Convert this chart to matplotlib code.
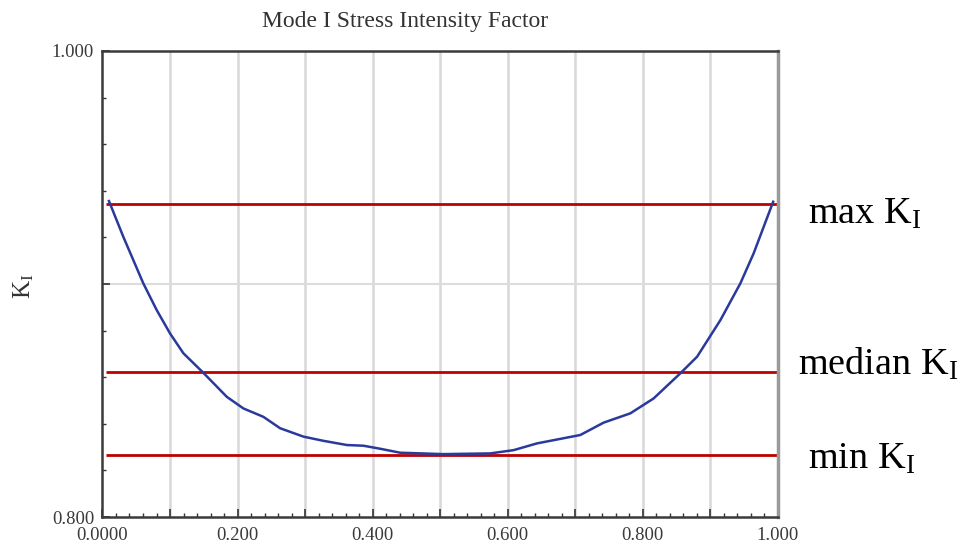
import matplotlib
matplotlib.use("Agg")
import matplotlib.pyplot as plt
from matplotlib.ticker import MultipleLocator, FixedLocator, FixedFormatter

plt.rcParams['mathtext.fontset'] = 'custom'
plt.rcParams['mathtext.rm'] = 'Liberation Serif'
plt.rcParams['mathtext.it'] = 'Liberation Serif:italic'

# ---- data ----
position = [0.0096, 0.0308, 0.0456, 0.0604, 0.0803, 0.1000, 0.1197, 0.1493,
            0.1840, 0.2086, 0.2382, 0.2630, 0.2975, 0.3271, 0.3618, 0.3864,
            0.4111, 0.4407, 0.5044, 0.5741, 0.6086, 0.6433, 0.7074, 0.7419,
            0.7815, 0.8160, 0.8556, 0.8803, 0.9148, 0.9444, 0.9641, 0.9929]
k_values = [0.9356, 0.9203, 0.9103, 0.9003, 0.8888, 0.8788, 0.8703, 0.8619,
            0.8516, 0.8466, 0.8430, 0.8381, 0.8345, 0.8327, 0.8309, 0.8306,
            0.8293, 0.8276, 0.8270, 0.8273, 0.8287, 0.8316, 0.8352, 0.8405,
            0.8445, 0.8509, 0.8617, 0.8688, 0.8845, 0.9003, 0.9132, 0.9353]
ref_names = ["max", "median", "min"]
ref_values = [0.9343, 0.8622, 0.8266]
ref_x_range = [0.005, 0.999]

x_tick_values = [0.0, 0.1, 0.2, 0.3, 0.4, 0.5, 0.6, 0.7, 0.8, 0.9, 1.0]
x_tick_labels = ["0.0000", "", "0.200", "", "0.400", "", "0.600", "", "0.800", "", "1.000"]
y_tick_values = [0.8, 0.9, 1.0]
y_tick_labels = ["0.800", "", "1.000"]

# ---- figure ----
fig = plt.figure(figsize=(9.75, 5.47), dpi=100)
ax = fig.add_axes([0.1051, 0.0548, 0.6928, 0.852])

ax.set_xlim(0, 1)
ax.set_ylim(0.8, 1.0)

serif = 'Liberation Serif'

# grid
for xv in x_tick_values[1:-1]:
    ax.axvline(xv, color='#d8d8d8', lw=1.8, zorder=0)
ax.axhline(0.9, color='#dcdcdc', lw=1.5, zorder=0)

# curve
ax.plot(position, k_values, color='#2a3a9c', lw=1.8, zorder=3)

# reference lines
for v in ref_values:
    ax.hlines(v, ref_x_range[0], ref_x_range[1], color='#c00000', lw=2.0, zorder=2)

# reference labels
offsets = {"max": -10, "median": 8, "min": -4}
xpos = {"max": 1.044, "median": 1.030, "min": 1.044}
for name, v in zip(ref_names, ref_values):
    ax.annotate(name + r" $\mathrm{K}_\mathrm{I}$", xy=(xpos[name], v),
                xycoords=('axes fraction', 'data'),
                xytext=(0, offsets[name]), textcoords='offset pixels',
                ha='left', va='center', fontsize=27.5, family=serif,
                color='black', annotation_clip=False)

# ticks
ax.xaxis.set_major_locator(FixedLocator(x_tick_values))
ax.xaxis.set_major_formatter(FixedFormatter(x_tick_labels))
ax.xaxis.set_minor_locator(MultipleLocator(0.02))
ax.yaxis.set_major_locator(FixedLocator(y_tick_values))
ax.yaxis.set_major_formatter(FixedFormatter(y_tick_labels))
ax.yaxis.set_minor_locator(MultipleLocator(0.02))

ax.tick_params(axis='both', which='major', direction='in', length=6, width=1.2,
               color='#333333', labelsize=13.5, labelcolor='#3a3a3a')
ax.tick_params(axis='both', which='minor', direction='in', length=3, width=1.0,
               color='#333333')
ax.tick_params(axis='x', pad=7)
ax.tick_params(axis='y', pad=6)
for lab in ax.get_xticklabels() + ax.get_yticklabels():
    lab.set_family(serif)

# spines
for s in ['left', 'bottom', 'top']:
    ax.spines[s].set_color('#3a3a3a')
    ax.spines[s].set_linewidth(1.8)
ax.spines['right'].set_color('#9a9a9a')
ax.spines['right'].set_linewidth(2.5)

# title and y label
fig.text(405 / 975, 1 - 21 / 547, "Mode I Stress Intensity Factor", ha='center', va='center',
         fontsize=17, family=serif, color='#333333')
fig.text(24 / 975, 1 - 286 / 547, r"$\mathrm{K}_\mathrm{I}$", ha='center', va='center',
         rotation=90, fontsize=18, color='#333333')

fig.savefig("out.png", dpi=100)
